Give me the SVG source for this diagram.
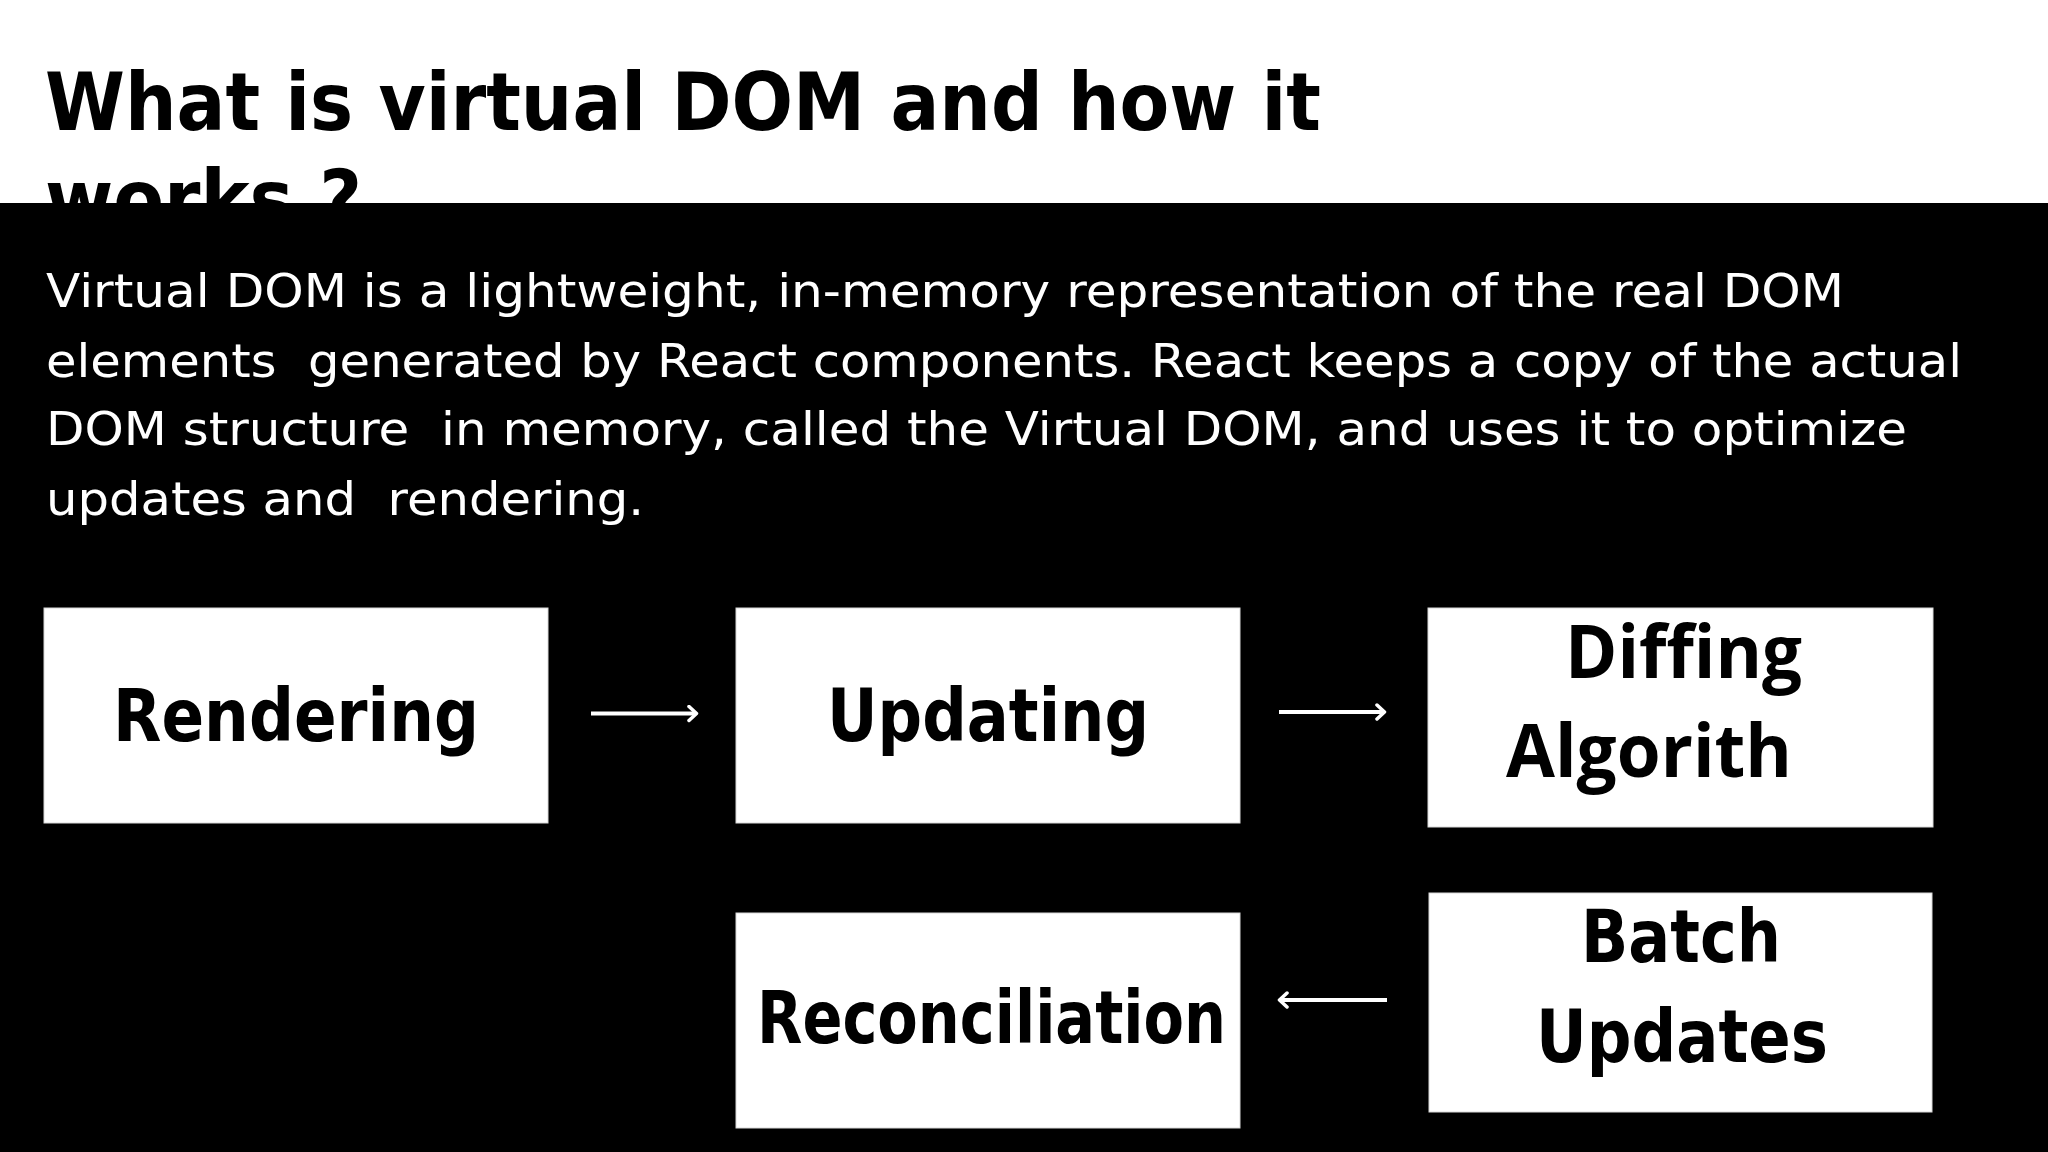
<svg xmlns="http://www.w3.org/2000/svg" width="2048" height="1152" viewBox="0 0 2048 1152">
  <defs>
    <style>
      .title { font-family: "DejaVu Sans", Verdana, sans-serif; font-weight: bold; font-size: 81px; fill: #000; }
      .para { font-family: "DejaVu Sans", Verdana, sans-serif; font-size: 47px; fill: #fff; white-space: pre; }
      .box { fill: #fff; stroke: #d8d8d8; stroke-width: 1; }
      .lbl { font-family: "DejaVu Sans", Verdana, sans-serif; font-weight: bold; font-size: 73px; fill: #000; }
      .lbl2 { font-family: "Open Sans", "DejaVu Sans", sans-serif; font-weight: bold; font-size: 74px; fill: #000; }
      .conn { stroke: #fff; stroke-width: 4; fill: none; }
    </style>
    <marker id="chev" markerUnits="userSpaceOnUse" viewBox="0 0 12 18" refX="9" refY="9" markerWidth="12" markerHeight="18" orient="auto">
      <path d="M2,2 L9.5,9 L2,16" fill="none" stroke="#fff" stroke-width="3.5" stroke-linecap="round" stroke-linejoin="round"/>
    </marker>
  </defs>

  <rect x="0" y="0" width="2048" height="1152" fill="#fff"/>

  <g id="title">
    <text class="title" x="45" y="130" textLength="1276" lengthAdjust="spacingAndGlyphs">What is virtual DOM and how it</text>
    <text class="title" x="45" y="227" textLength="317" lengthAdjust="spacingAndGlyphs">works ?</text>
  </g>

  <rect x="0" y="203" width="2048" height="949" fill="#000"/>

  <g id="description">
    <text class="para" x="46" y="307" textLength="1798" lengthAdjust="spacingAndGlyphs">Virtual DOM is a lightweight, in-memory representation of the real DOM</text>
    <text class="para" x="46" y="377" textLength="1916" lengthAdjust="spacingAndGlyphs">elements  generated by React components. React keeps a copy of the actual</text>
    <text class="para" x="46" y="445" textLength="1861" lengthAdjust="spacingAndGlyphs">DOM structure  in memory, called the Virtual DOM, and uses it to optimize</text>
    <text class="para" x="46" y="515" textLength="598" lengthAdjust="spacingAndGlyphs">updates and  rendering.</text>
  </g>

  <g id="node-rendering">
    <rect class="box" x="44" y="608" width="504" height="215"/>
    <text class="lbl" x="113" y="741" textLength="366" lengthAdjust="spacingAndGlyphs">Rendering</text>
  </g>

  <g id="node-updating">
    <rect class="box" x="736" y="608" width="504" height="215"/>
    <text class="lbl" x="827" y="741" textLength="322" lengthAdjust="spacingAndGlyphs">Updating</text>
  </g>

  <g id="node-diffing">
    <rect class="box" x="1428" y="608" width="505" height="219"/>
    <text class="lbl2" x="1565" y="678" textLength="237" lengthAdjust="spacingAndGlyphs">Diffing</text>
    <text class="lbl2" x="1506" y="777" textLength="286" lengthAdjust="spacingAndGlyphs">Algorith</text>
  </g>

  <g id="node-batch">
    <rect class="box" x="1429" y="893" width="503" height="219"/>
    <text class="lbl" x="1581" y="962" textLength="200" lengthAdjust="spacingAndGlyphs">Batch</text>
    <text class="lbl" x="1536" y="1062" textLength="292" lengthAdjust="spacingAndGlyphs">Updates</text>
  </g>

  <g id="node-reconciliation">
    <rect class="box" x="736" y="913" width="504" height="215"/>
    <text class="lbl" x="757" y="1043" font-size="66" textLength="469" lengthAdjust="spacingAndGlyphs">Reconciliation</text>
  </g>

  <g id="connectors">
    <line class="conn" x1="591" y1="713.5" x2="696" y2="713.5" marker-end="url(#chev)"/>
    <line class="conn" x1="1279" y1="712" x2="1384" y2="712" marker-end="url(#chev)"/>
    <line class="conn" x1="1387" y1="1000" x2="1280" y2="1000" marker-end="url(#chev)"/>
  </g>
</svg>
